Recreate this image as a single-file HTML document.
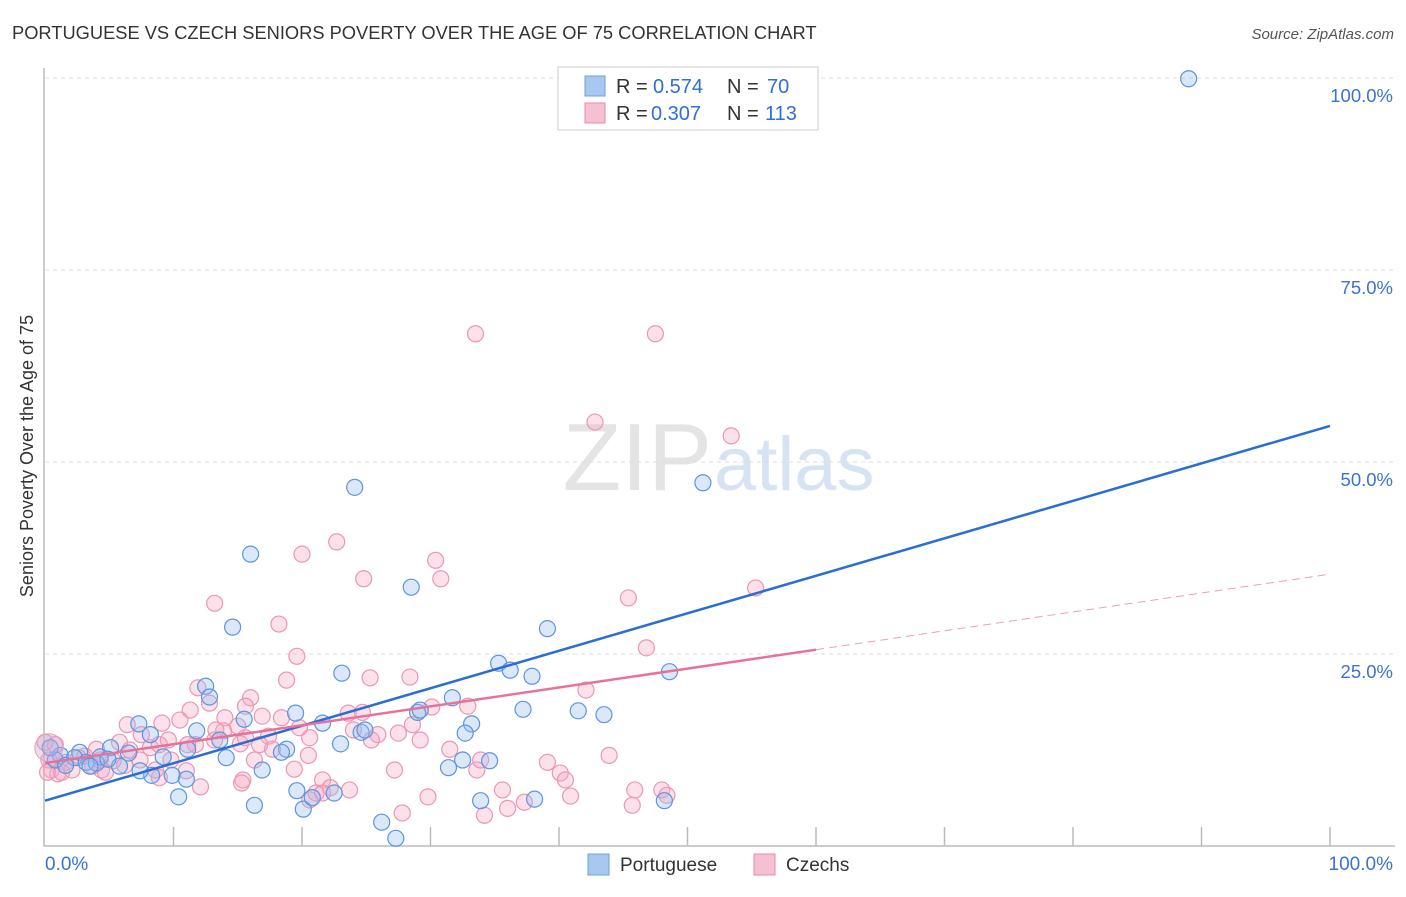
<!DOCTYPE html>
<html><head><meta charset="utf-8"><style>
body{margin:0;background:#fff;font-family:"Liberation Sans",sans-serif;}
svg text{font-family:"Liberation Sans",sans-serif;}
</style></head><body>
<svg id="chart" width="1406" height="892">
<text x="12" y="39" font-size="18.3" fill="#333">PORTUGUESE VS CZECH SENIORS POVERTY OVER THE AGE OF 75 CORRELATION CHART</text>
<text x="1394" y="39" font-size="15" fill="#555" font-style="italic" text-anchor="end">Source: ZipAtlas.com</text>
<text x="33" y="456" font-size="18" fill="#333" text-anchor="middle" transform="rotate(-90 33 456)">Seniors Poverty Over the Age of 75</text>
<text x="712" y="490" font-size="96" fill="#e4e4e4" text-anchor="end" font-family="Liberation Serif">ZIP</text>
<text x="714" y="490" font-size="76" fill="#d6e3f3">atlas</text>
<g id="grid"></g><g id="pts"></g><g id="lines"></g>
<g>
<rect x="558" y="67" width="260" height="63" fill="#fff" stroke="#ccc"/>
<rect x="585" y="76" width="20" height="20" fill="#a8c8f0" stroke="#6a9fe0"/>
<rect x="585" y="103" width="20" height="20" fill="#f5c0d2" stroke="#e88aa8"/>
<text y="93" font-size="20" fill="#333"><tspan x="616">R =</tspan><tspan x="653" fill="#2e6fd6">0.574</tspan><tspan x="727">N =</tspan><tspan x="767" fill="#2e6fd6">70</tspan></text>
<text y="120" font-size="20" fill="#333"><tspan x="616">R =</tspan><tspan x="651" fill="#2e6fd6">0.307</tspan><tspan x="727">N =</tspan><tspan x="765" fill="#2e6fd6">113</tspan></text>
</g>
<g>
<rect x="588" y="854" width="21" height="21" fill="#a8c8f0" stroke="#6a9fe0"/>
<text x="620" y="871" font-size="19" fill="#333">Portuguese</text>
<rect x="754" y="854" width="21" height="21" fill="#f5c0d2" stroke="#e88aa8"/>
<text x="786" y="871" font-size="19" fill="#333">Czechs</text>
</g>
</svg>
<script>
const yTicks=[25,50,75,100];
const yTickLabels=["25.0%","50.0%","75.0%","100.0%"];
const xTickLabels=["0.0%","100.0%"];
const bluePx=[[1189,79],[355,487],[703,483],[250,554],[411,587],[233,627],[548,629],[342,673],[498,663],[510,670],[532,676],[205,686],[209,697],[295,713],[452,698],[523,709],[578,711],[604,715],[670,672],[139,724],[196,731],[220,740],[244,719],[322,723],[418,712],[472,724],[361,732],[340,744],[465,733],[489,761],[462,760],[449,768],[287,749],[282,752],[262,770],[226,758],[188,749],[163,757],[128,753],[111,748],[119,766],[100,757],[80,752],[60,755],[74,758],[55,760],[86,762],[96,763],[152,775],[172,775],[186,779],[178,797],[254,805],[303,809],[312,798],[334,793],[297,791],[382,822],[396,838],[481,801],[535,799],[664,801],[50,748],[65,765],[90,766],[140,771],[108,759],[150,735],[365,730],[420,710]];
const pinkPx=[[475,334],[656,334],[595,422],[731,436],[302,554],[337,542],[436,560],[364,579],[441,579],[214,603],[628,598],[756,588],[279,624],[297,656],[647,648],[370,678],[410,677],[286,680],[198,688],[210,703],[250,698],[586,690],[127,725],[142,735],[162,723],[180,720],[190,710],[225,718],[246,706],[224,731],[238,726],[262,716],[282,718],[268,736],[310,738],[348,713],[362,712],[412,725],[432,707],[468,706],[353,730],[378,735],[398,733],[450,749],[119,742],[97,749],[85,756],[66,762],[52,770],[58,774],[72,770],[102,770],[130,750],[150,748],[160,745],[171,760],[195,745],[214,740],[240,744],[255,760],[272,749],[308,755],[294,769],[322,780],[330,788],[310,800],[316,793],[243,780],[242,783],[201,787],[186,771],[160,778],[113,761],[105,772],[92,766],[78,758],[49,760],[47,772],[477,770],[502,790],[524,802],[548,762],[560,773],[565,780],[571,796],[609,755],[635,790],[632,805],[662,790],[667,795],[428,797],[402,813],[485,815],[507,808],[350,790],[322,793],[480,760],[55,745],[45,742],[62,772],[100,760],[125,765],[140,760],[168,740],[246,738],[216,730],[300,728],[372,740],[420,740],[188,745],[260,745],[155,770],[395,770]];
const blueX=bluePx.map(p=>+((p[0]-45)/12.85).toFixed(1));
const blueY=bluePx.map(p=>+((846-p[1])/7.68).toFixed(1));
const pinkX=pinkPx.map(p=>+((p[0]-45)/12.85).toFixed(1));
const pinkY=pinkPx.map(p=>+((846-p[1])/7.68).toFixed(1));
const blueTrend=[5.9,54.7];
const pinkTrend=[10.8,35.4];
const pinkSolidEnd=60;
const NS="http://www.w3.org/2000/svg";
const X=v=>45+v*12.85, Y=v=>846-v*7.68;
function mk(t,a,parent){const e=document.createElementNS(NS,t);for(const k in a)e.setAttribute(k,a[k]);parent.appendChild(e);return e;}
const grid=document.getElementById('grid');
yTicks.forEach((t,i)=>{
 const l=mk('line',{x1:45,x2:1395,y1:Y(t),y2:Y(t),stroke:'#ddd','stroke-dasharray':'4 4'},grid);
 
 
 const tx=mk('text',{x:1393,y:Y(t)+24,'font-size':18.5,fill:'#3b73d1','text-anchor':'end'},grid);
 tx.textContent=yTickLabels[i];
 
 
});
const ax=mk('path',{d:'M44 68V846H1395',stroke:'#bbb',fill:'none','stroke-width':1.5},grid);


for(let i=1;i<=10;i++){const t=mk('line',{x1:X(i*10),x2:X(i*10),y1:827,y2:846,stroke:'#bbb','stroke-width':1.5},grid);
 
 }
[[0,'start',45],[100,'end',1393]].forEach((d,i)=>{const t=mk('text',{x:d[2],y:870,'font-size':19,fill:'#3b73d1','text-anchor':d[1]},grid);t.textContent=xTickLabels[i];
 
 });
const pts=document.getElementById('pts');
pinkX.forEach((x,i)=>{const c=mk('circle',{cx:X(x),cy:Y(pinkY[i]),r:8,fill:'rgba(245,170,195,0.35)',stroke:'#ec96b2','stroke-width':1.2},pts);
 
 });
blueX.forEach((x,i)=>{const c=mk('circle',{cx:X(x),cy:Y(blueY[i]),r:8,fill:'rgba(150,190,240,0.35)',stroke:'#5c95e0','stroke-width':1.2},pts);
 
 });
const big=mk('circle',{cx:X(0.3),cy:Y(12.8),r:14,fill:'rgba(200,170,210,0.4)',stroke:'#e8a0b8'},pts);


const lines=document.getElementById('lines');
const bl=mk('line',{x1:X(0),y1:Y(blueTrend[0]),x2:X(100),y2:Y(blueTrend[1]),stroke:'#2a6dd4','stroke-width':2.5},lines);


const pv=x=>pinkTrend[0]+(pinkTrend[1]-pinkTrend[0])*x/100;
const pl=mk('line',{x1:X(0),y1:Y(pv(0)),x2:X(pinkSolidEnd),y2:Y(pv(pinkSolidEnd)),stroke:'#e8719a','stroke-width':2.5},lines);


const pd=mk('line',{x1:X(pinkSolidEnd),y1:Y(pv(pinkSolidEnd)),x2:X(100),y2:Y(pv(100)),stroke:'#e8a0b8','stroke-width':1,'stroke-dasharray':'8 5'},lines);


</script>
</body></html>
